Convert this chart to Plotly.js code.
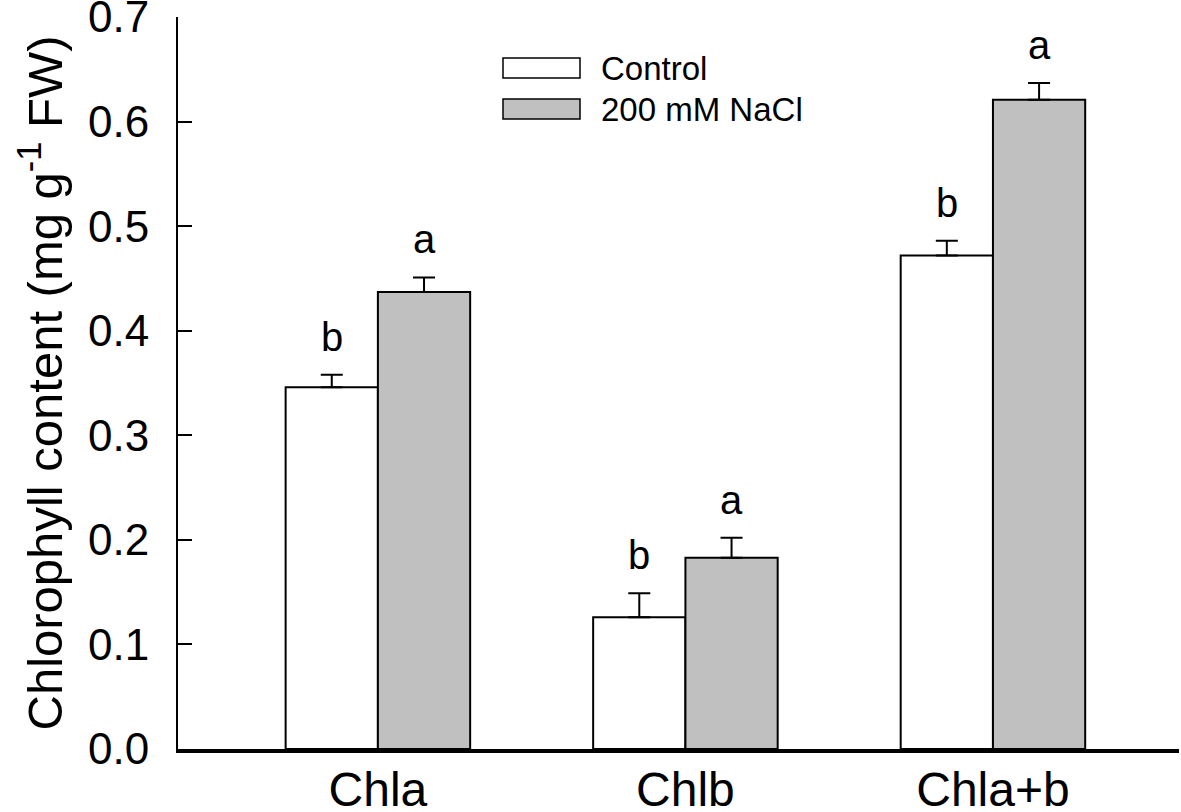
<!DOCTYPE html>
<html>
<head>
<meta charset="utf-8">
<script src="https://cdn.plot.ly/plotly-3.0.1.min.js"></script>
<style>html,body{margin:0;padding:0;background:#fff;}#chart{width:1181px;height:812px;}</style>
</head>
<body>
<div id="chart"></div>
<script>
const categories = ["Chla", "Chlb", "Chla+b"];
const seriesNames = ["Control", "200 mM NaCl"];
const controlValues = [0.346, 0.126, 0.472];
const controlErrors = [0.012, 0.023, 0.014];
const naclValues = [0.437, 0.183, 0.621];
const naclErrors = [0.014, 0.019, 0.016];
const controlLetters = ["b", "b", "b"];
const naclLetters = ["a", "a", "a"];
const yTicks = [0.0, 0.1, 0.2, 0.3, 0.4, 0.5, 0.6, 0.7];
const yTickText = ["0.0", "0.1", "0.2", "0.3", "0.4", "0.5", "0.6", "0.7"];

const FONT = "Liberation Sans, Arial, sans-serif";
const fills = ["#ffffff", "#c0c0c0"];
const idx = categories.map((c, i) => i);

function barTrace(vals, errs, name, fill) {
  return {
    type: "bar", x: idx, y: vals, name: name,
    marker: {color: fill, line: {color: "#000", width: 2}},
    error_y: {type: "data", symmetric: false, array: errs, arrayminus: errs.map(() => 0),
      color: "#000", thickness: 2, width: 11},
    hoverinfo: "skip"
  };
}

const data = [
  barTrace(controlValues, controlErrors, seriesNames[0], fills[0]),
  barTrace(naclValues, naclErrors, seriesNames[1], fills[1])
];

const annotations = [];
idx.forEach(i => {
  annotations.push({x: i - 0.15, y: controlValues[i] + controlErrors[i], xref: "x", yref: "y",
    text: controlLetters[i], showarrow: false, yanchor: "bottom", yshift: 14,
    font: {family: FONT, size: 40, color: "#000"}});
  annotations.push({x: i + 0.15, y: naclValues[i] + naclErrors[i], xref: "x", yref: "y",
    text: naclLetters[i], showarrow: false, yanchor: "bottom", yshift: 14,
    font: {family: FONT, size: 40, color: "#000"}});
});

// custom legend (wide boxes)
const shapes = [];
const legendRows = [{y0: 58, y1: 78}, {y0: 99, y1: 119}];
seriesNames.forEach((n, k) => {
  const r = legendRows[k];
  shapes.push({type: "rect", xref: "paper", yref: "paper",
    x0: (503 - 178) / 1001, x1: (580 - 178) / 1001,
    y0: (749 - r.y1) / 732, y1: (749 - r.y0) / 732,
    fillcolor: fills[k], line: {color: "#000", width: 1.5}});
  annotations.push({xref: "paper", yref: "paper", x: (599 - 178) / 1001, y: (749 - (r.y0 + r.y1) / 2) / 732,
    xanchor: "left", yanchor: "middle", text: n, showarrow: false,
    font: {family: FONT, size: 33, color: "#000"}});
});

const layout = {
  width: 1181, height: 812,
  margin: {l: 178, r: 2, t: 17, b: 63, pad: 0},
  paper_bgcolor: "#fff", plot_bgcolor: "#fff",
  showlegend: false,
  barmode: "group", bargap: 0.4, bargroupgap: 0,
  font: {family: FONT, color: "#000"},
  xaxis: {
    range: [-0.65, 2.605], tickvals: idx, ticktext: categories,
    showgrid: false, zeroline: false, showline: true, linecolor: "#000", linewidth: 4,
    ticks: "", ticklen: 0, tickfont: {family: FONT, size: 48, color: "#000"}, ticklabelstandoff: -5,
    ticklabeloverflow: "allow",
    fixedrange: true
  },
  yaxis: {
    range: [0, 0.70002], tickvals: yTicks, ticktext: yTickText,
    showgrid: false, zeroline: false, showline: true, linecolor: "#000", linewidth: 2,
    ticks: "inside", ticklen: 14, tickwidth: 2, tickcolor: "#000",
    tickfont: {family: FONT, size: 44, color: "#000"}, ticklabelstandoff: 18,
    ticklabeloverflow: "allow",
    title: {text: "Chlorophyll content (mg g<sup>-1</sup> FW)", font: {family: FONT, size: 49, color: "#000"}, standoff: 10},
    automargin: false, fixedrange: true
  },
  annotations: annotations,
  shapes: shapes
};

Plotly.newPlot("chart", data, layout, {displayModeBar: false, staticPlot: true});
</script>
</body>
</html>
